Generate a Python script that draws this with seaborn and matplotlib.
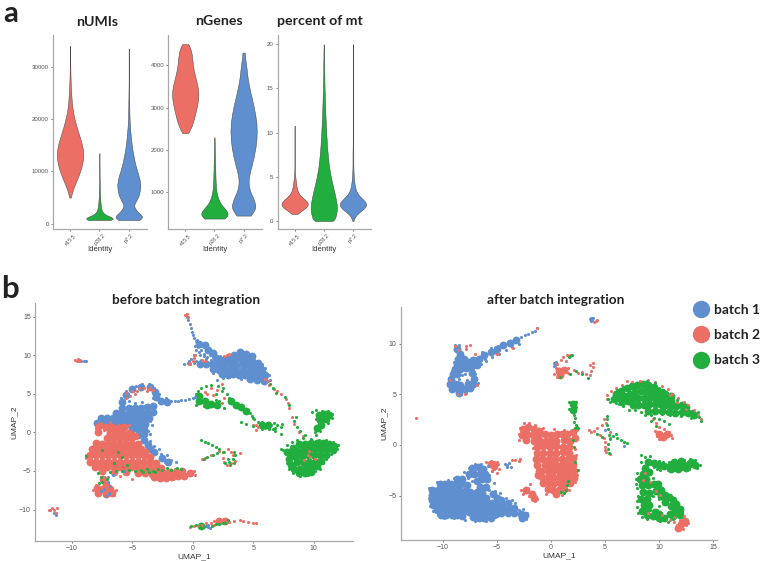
import seaborn as sns
import matplotlib
matplotlib.use("Agg")
import matplotlib.pyplot as plt
from matplotlib.lines import Line2D
import numpy as np
import pandas as pd

BLUE, RED, GREEN = "#5F8FCF", "#EC6F66", "#22AE3F"
identities = ["e15.5", "p28.2", "p7.2"]

# violins: value bins with rough cell counts read off the widths in the picture
numi_e15_vals = [5000, 6000, 7000, 8000, 9000, 10000, 11000, 12000, 13000, 14000, 15000, 16000, 17000, 18000, 19000, 20000, 21000, 22000, 23000, 24000, 25000, 26000, 27000, 28000, 29000, 30000, 31000, 32000, 33000, 34000]
numi_e15_cnt = [4, 12, 22, 36, 48, 60, 70, 76, 80, 78, 72, 64, 54, 44, 35, 27, 20, 15, 11, 9, 7, 5, 4, 3, 2, 2, 1, 1, 1, 1]
numi_p28_vals = [700, 1100, 1500, 1900, 2300, 2700, 3100, 3500, 3900, 4300, 4700, 5100, 5500, 5900, 6300, 6700, 7100, 7500, 7900, 8300, 8700, 9100, 9500, 9900, 10300, 10700, 11100, 11500, 11900, 12300, 12700, 13100, 13500]
numi_p28_cnt = [140, 156, 80, 44, 28, 20, 16, 14, 11, 10, 8, 7, 6, 6, 5, 5, 4, 4, 3, 3, 3, 2, 2, 2, 2, 2, 1, 1, 1, 1, 1, 1, 1]
numi_p7_vals = [700, 1500, 2500, 3500, 4500, 5500, 6500, 7500, 8500, 9500, 10500, 11500, 12500, 13500, 14500, 15500, 16500, 17500, 18500, 19500, 20500, 21500, 22500, 23500, 24500, 25500, 26500, 27500, 28500, 29500, 30500, 31500, 32500, 33500]
numi_p7_cnt = [64, 88, 50, 30, 52, 68, 75, 78, 72, 62, 52, 42, 35, 28, 22, 18, 14, 11, 8, 6, 5, 4, 3, 3, 2, 2, 1, 1, 1, 1, 1, 1, 1, 1]

genes_e15_vals = [2400, 2500, 2600, 2700, 2800, 2900, 3000, 3100, 3200, 3300, 3400, 3500, 3600, 3700, 3800, 3900, 4000, 4100, 4200, 4300, 4400, 4500]
genes_e15_cnt = [18, 32, 42, 50, 56, 62, 68, 73, 77, 80, 78, 74, 68, 62, 55, 50, 46, 43, 41, 38, 32, 20]
genes_p28_vals = [380, 480, 580, 680, 780, 880, 980, 1080, 1180, 1280, 1380, 1480, 1580, 1680, 1780, 1880, 1980, 2080, 2180, 2300]
genes_p28_cnt = [66, 80, 62, 36, 24, 16, 11, 8, 7, 6, 5, 5, 4, 4, 3, 3, 2, 2, 2, 1]
genes_p7_vals = [450, 650, 850, 1050, 1250, 1450, 1650, 1850, 2050, 2250, 2450, 2650, 2850, 3050, 3250, 3450, 3650, 3850, 4050, 4300]
genes_p7_cnt = [44, 78, 60, 36, 28, 36, 50, 62, 72, 78, 80, 78, 70, 60, 48, 36, 26, 20, 15, 9]

mt_vals = [0, 0.4, 0.8, 1.2, 1.6, 2, 2.4, 2.8, 3.2, 3.6, 4, 4.4, 4.8, 5.2, 5.6, 6, 6.4, 6.8, 7.2, 7.6, 8, 8.4, 8.8, 9.2, 9.6, 10, 10.4, 10.8, 11.2, 11.6, 12, 12.4, 12.8, 13.2, 13.6, 14, 14.4, 14.8, 15.2, 15.6, 16, 16.4, 16.8, 17.2, 17.6, 18, 18.4, 18.8, 19.2, 19.6, 20]
mt_e15_cnt = [0, 0, 8, 40, 72, 80, 60, 32, 18, 13, 9, 7, 5, 3, 2, 1, 1, 1, 1, 1, 1, 1, 1, 1, 1, 1, 1, 1, 0, 0, 0, 0, 0, 0, 0, 0, 0, 0, 0, 0, 0, 0, 0, 0, 0, 0, 0, 0, 0, 0, 0]
mt_p28_cnt = [66, 70, 76, 80, 80, 78, 74, 70, 65, 60, 55, 50, 45, 41, 37, 33, 30, 28, 26, 24, 22, 20, 19, 18, 16, 15, 14, 13, 12, 11, 10, 9, 9, 8, 7, 7, 6, 5, 5, 4, 4, 4, 3, 3, 3, 3, 2, 2, 2, 1, 1]
mt_p7_cnt = [1, 4, 14, 45, 75, 80, 55, 30, 18, 12, 9, 7, 5, 4, 3, 2, 2, 2, 2, 2, 2, 1, 1, 1, 1, 1, 1, 1, 1, 1, 1, 1, 1, 1, 1, 1, 1, 1, 1, 1, 1, 1, 1, 1, 1, 1, 1, 1, 1, 1, 1]

# umap points, big dots fill the blobs, small dots do the edges and speckle
before_blue_core = [(0.5,11.4),(1.0,11.3),(1.3,10.7),(1.7,10.3),(3.4,10.0),(3.9,10.4),(4.4,10.2),(4.9,9.9),
    (1.9,9.6),(2.4,9.4),(2.9,9.5),(3.4,9.4),(3.9,9.6),(4.4,9.5),(4.9,9.3),(5.4,9.0),
    (0.6,8.8),(1.1,8.9),(1.6,8.9),(2.1,8.8),(2.6,8.7),(3.1,8.8),(3.6,8.7),(4.1,8.8),(4.6,8.7),(5.1,8.6),(5.6,8.4),
    (1.7,8.2),(2.2,8.1),(2.7,8.1),(3.2,8.1),(3.7,8.0),(4.2,8.1),(4.7,8.0),(5.2,7.9),(5.7,7.8),(6.0,7.4),
    (3.3,7.5),(3.8,7.4),(4.3,7.4),(4.8,7.4),(5.3,7.3),(5.8,7.2),(4.7,6.9),(5.3,6.8),(5.9,6.7),
    (-3.0,4.6),(-2.6,4.0),(-2.1,3.9),(-5.8,3.9),(-5.8,3.2),(-5.3,3.2),(-4.8,3.1),(-4.3,3.2),(-3.8,3.3),(-3.3,3.4),
    (-5.5,4.8),(-5.0,5.6),(-4.3,5.9),(-3.5,5.9),(-3.1,5.2),
    (-6.3,2.5),(-5.8,2.5),(-5.3,2.5),(-4.8,2.5),(-4.3,2.5),(-3.8,2.5),(-3.3,2.6),
    (-7.6,1.8),(-7.1,1.8),(-6.6,1.8),(-6.1,1.8),(-5.6,1.8),(-5.1,1.8),(-4.6,1.8),(-4.1,1.8),(-3.6,1.8),
    (-7.9,1.2),(-7.4,1.2),(-6.9,1.2),(-6.4,1.2),(-5.9,1.1),(-5.4,1.1),(-4.9,1.1),(-4.4,1.1),(-3.9,1.1),
    (-5.0,0.4),(-4.5,0.4),(-4.0,0.4),(-4.5,-0.3),(-4.0,-0.2),(-4.0,-1.0),(-3.7,-1.7),(-3.2,-2.6),(-2.5,-3.3),
    (2.4,7.6),(2.9,7.4),(-3.5,-2.2),(-2.0,-3.9)]
before_red_core = [(-7.7,0.8),(-7.2,0.7),(-6.7,0.7),(-6.2,0.6),(-5.7,0.7),(-7.8,0.0),(-6.8,-0.1),(-6.3,0.0),(-5.8,-0.1),(-5.3,-0.1),
    (-7.1,-0.8),(-6.6,-0.8),(-6.1,-0.8),(-5.6,-0.8),(-5.1,-0.8),(-4.8,-0.5),
    (-8.0,-1.4),(-7.5,-1.5),(-7.0,-1.5),(-6.5,-1.5),(-6.0,-1.5),(-5.5,-1.5),(-5.0,-1.5),(-4.5,-1.5),
    (-8.3,-2.2),(-7.8,-2.2),(-7.3,-2.2),(-6.8,-2.2),(-6.3,-2.2),(-5.8,-2.2),(-5.3,-2.2),(-4.8,-2.2),(-4.3,-2.2),(-3.9,-2.5),
    (-8.5,-3.0),(-8.0,-3.0),(-7.5,-3.0),(-7.0,-3.0),(-6.5,-3.0),(-6.0,-3.0),(-5.5,-3.0),(-5.0,-3.0),(-4.5,-3.0),(-4.0,-3.0),(-3.5,-3.2),
    (-8.5,-3.8),(-8.0,-3.8),(-7.5,-3.8),(-7.0,-3.8),(-6.5,-3.8),(-6.0,-3.8),(-5.5,-3.8),(-5.0,-3.8),(-4.5,-3.8),(-4.0,-3.8),(-3.5,-3.9),(-3.0,-4.0),
    (-8.1,-4.5),(-7.6,-4.5),(-7.1,-4.5),(-6.6,-4.4),(-6.1,-4.5),(-5.6,-4.5),(-5.1,-4.5),(-4.6,-4.5),(-4.1,-4.6),(-3.6,-4.6),(-3.1,-4.6),(-2.6,-4.6),
    (-7.5,-5.0),(-6.5,-5.1),(-5.5,-5.2),(-4.5,-5.3),(-3.9,-5.3),(-3.4,-5.4),(-2.9,-5.4),(-2.4,-5.3),(-1.9,-5.2),(-1.4,-5.2),(-0.9,-5.0),
    (-3.2,-5.8),(-2.7,-5.9),(-2.2,-5.9),(-1.7,-5.8),(-1.2,-5.7),(-0.7,-5.6),(-0.2,-5.3),
    (-7.4,-6.1),(-7.2,-6.8),(-7.9,-7.2),(-7.4,-7.4),(-6.8,-7.3),(-7.8,-7.9),(-7.2,-8.0),(-6.7,-7.9),
    (2.2,-11.5),(2.7,-11.5)]
before_green_core = [(7.8,-2.5),(8.3,-2.0),(8.8,-1.5),(9.3,-1.5),(9.8,-1.4),(10.3,-1.4),(10.8,-1.4),(11.3,-1.5),(11.7,-1.8),
    (8.1,-2.8),(8.6,-2.4),(9.1,-2.3),(9.6,-2.2),(10.1,-2.2),(10.6,-2.2),(11.1,-2.2),(11.6,-2.3),
    (8.0,-3.5),(8.5,-3.2),(9.0,-3.1),(9.5,-3.0),(10.0,-3.0),(10.5,-3.0),(11.0,-3.0),
    (8.1,-4.2),(8.6,-3.9),(9.1,-3.9),(9.6,-3.8),(10.1,-3.8),(10.6,-3.7),
    (8.4,-4.8),(8.9,-4.7),(9.4,-4.6),(9.9,-4.5),(10.3,-4.4),(8.8,-5.3),(9.3,-5.3),(9.8,-5.1),
    (10.4,2.3),(10.9,2.4),(11.3,2.3),(10.5,1.6),(11.0,1.7),(10.6,1.0),(10.3,0.5),
    (0.5,4.7),(0.5,4.1),(1.0,4.0),(1.5,3.7),(2.0,3.5),(3.2,4.1),(3.6,3.6),(4.0,3.3),(4.4,2.8),(5.7,1.0),(6.2,0.9),
    (1.2,3.6),(0.7,-12.2)]
before_blue_fine = [(-0.5,15.0),(-0.35,14.5),(-0.25,14.0),(-0.15,13.5),(-0.05,13.0),(0.05,12.6),(0.15,12.2),(0.25,11.8),(0.35,12.0),
    (0.2,11.2),(0.3,10.6),(0.1,10.0),(-0.1,9.5),(-0.4,9.0),(-0.7,8.8),(-0.2,8.8),(0.3,9.2),(0.7,9.4),(1.1,9.5),(0.9,10.2),(0.6,10.0),
    (0.4,11.0),(0.5,10.4),(0.9,9.9),(1.4,10.0),(1.2,9.7),(-0.3,9.3),(0.1,9.0),(0.4,8.9),(0.7,10.7),(1.5,9.4),
    (2.9,9.9),(2.3,9.9),(1.7,9.8),(5.7,8.9),(6.0,8.3),(6.3,7.4),(6.4,6.8),(2.5,7.7),(3.0,7.5),(1.7,7.7),(4.0,6.9),(3.0,7.1),(2.5,7.0),(2.0,6.8),
    (-5.9,4.5),(-5.7,5.0),(-5.5,5.4),(-5.1,5.8),(-4.7,6.0),(-4.2,6.2),(-3.6,6.2),(-3.2,5.8),(-3.0,5.3),(-2.8,5.0),(-3.3,4.5),(-4.2,3.9),(-4.8,3.8),(-5.3,4.0),(-2.2,4.4),(-1.8,4.1),(-1.5,4.0),(-1.2,4.1),(-1.0,4.2),(-0.6,4.2),(-0.3,4.3),(0.0,4.4),(0.2,4.6),
    (-3.5,1.5),(-3.4,1.0),(-3.7,0.2),(-3.5,-0.2),(-3.5,-1.1),(-3.2,-1.8),(-2.8,-2.2),(-2.6,-2.8),(-2.1,-3.0),(-1.8,-3.6),(-1.4,-3.9),(-2.3,-3.8),
    (-7.0,-6.5),(-7.3,-7.3),(-6.9,-7.8),(-7.6,-7.6),(-6.9,-8.0),(-7.2,-8.2),(-6.8,-7.0),(-7.0,-5.8),(-6.6,-5.5),(-5.7,-5.0),
    (-9.2,9.3),(-9.0,9.3),(-8.8,9.3),(-11.8,-10.1),(-11.5,-10.4),(-11.3,-10.7),(1.3,-12.0),(1.3,-12.3),(1.1,-12.2),(1.4,-12.4)]
before_red_fine = [(-0.6,15.2),(-0.4,15.0),(-0.5,15.3),(0.0,9.3),(-0.2,9.0),(-0.3,8.9),(0.1,9.6),(0.2,10.0),(0.75,9.4),(1.0,9.3),(2.8,10.0),(3.0,10.2),(2.6,9.9),(6.0,6.9),(6.2,6.6),
    (-5.5,5.1),(-5.2,4.7),(-5.0,5.3),(-5.5,4.4),(-4.8,5.0),(-4.0,5.7),(-3.6,5.6),(-3.3,5.5),(-3.8,5.4),(-3.5,5.9),(-4.4,5.7),(-4.6,5.3),
    (-7.6,1.2),(-6.8,1.4),(-6.1,0.9),(-5.3,0.9),(-8.0,0.5),(-7.3,0.3),(-8.3,-1.9),(-8.8,-3.3),(-8.8,-2.9),(-5.0,-6.0),(-6.0,-5.6),
    (-8.2,-7.5),(-8.0,-6.8),(-6.3,-7.5),(-6.5,-8.1),(0.1,-5.0),(0.2,-5.5),
    (-9.7,9.4),(-9.5,9.5),(-9.4,9.3),(-9.6,9.2),(-9.3,9.4),(-11.9,-10.0),(-11.6,-9.8),(-11.2,-9.8),(-11.5,-10.1),(-11.3,-10.5),
    (-0.2,-12.3),(0.1,-12.1),(0.5,-12.2),(0.8,-12.0),(1.1,-11.8),(1.5,-11.7),(1.8,-11.5),(2.0,-11.3),(2.3,-11.3),(2.6,-11.2),(2.8,-11.5),(2.4,-11.6),(1.8,-12.0),(3.0,-11.6),(3.4,-11.5),(3.9,-11.3),(4.2,-11.5),(4.6,-11.6),(5.0,-11.7),(5.2,-11.7),
    (2.2,-2.4),(2.6,-2.5),(2.9,-2.2),(3.2,-2.6),(3.3,-3.0),(2.5,-3.3),(2.6,-3.8),(2.8,-4.2),(3.2,-4.0),(3.5,-3.7),(1.5,-3.0),(1.0,-3.3),(0.8,-3.5),(3.9,-2.7),
    (6.3,6.1),(6.7,5.6),(7.0,5.4),(7.3,5.0),(7.7,4.3),(7.9,3.8),(8.0,3.1),(8.2,2.0),(8.4,1.1),(8.8,0.0),(9.1,-0.5),(9.5,-2.9),(9.7,-3.2),(10.1,-3.4),(9.2,-3.6),(9.6,-2.4),
    (1.0,5.2),(1.5,5.8),(2.0,5.5),(2.4,6.2),(1.7,4.8),(1.2,4.9),(2.6,4.5),(2.4,3.8),(5.0,1.0),(5.2,0.9),(5.4,0.7),(5.2,0.3),
    (-4.5,-4.9),(-2.5,-5.1),(-1.5,-4.8)]
before_green_fine = [(-6.8,-5.1),(-6.3,-5.0),(-5.8,-5.0),(-5.3,-4.9),(-4.8,-5.0),(-4.3,-4.9),(-3.8,-4.8),(-3.3,-5.0),(-2.9,-4.7),(-2.5,-4.9),(-2.1,-4.6),(-1.8,-4.9),(-1.3,-4.6),(-1.0,-4.7),(-3.1,-5.2),(-3.6,-5.1),(-4.1,-5.1),
    (-7.8,-5.3),(-7.6,-5.8),(-7.5,-6.4),(-7.7,-6.6),(-7.1,-6.0),(-8.8,-3.1),(-7.5,-2.3),(-6.2,-2.5),(-5.8,-3.2),(-6.5,-4.0),(-5.4,-4.2),
    (0.3,5.0),(0.4,5.4),(0.7,5.7),(1.1,6.0),(1.5,6.1),(2.1,6.0),(2.5,5.7),(2.4,5.3),(2.8,4.9),(3.0,4.4),(3.3,4.0),(2.2,4.1),(2.6,3.2),(1.9,4.2),(1.2,3.4),(0.9,3.4),(0.3,3.6),(1.9,5.0),
    (4.7,2.5),(4.9,2.1),(5.1,1.7),(5.4,1.4),(5.0,1.8),(5.7,1.3),(6.5,0.9),(6.8,0.6),(7.0,0.9),(7.3,0.7),(7.4,1.1),(6.7,1.2),(7.3,-0.2),(6.8,0.2),(6.3,0.4),(5.7,0.4),(5.0,0.8),(4.4,1.1),(4.0,1.3),(6.0,0.5),(6.6,0.4),
    (10.1,0.0),(10.2,-0.3),(9.9,2.6),(10.2,2.9),(10.7,2.8),(11.2,2.8),(11.5,2.4),(11.5,1.9),(10.2,1.7),(11.2,1.2),(10.5,0.2),
    (7.5,-2.3),(7.3,-2.2),(7.8,-1.7),(8.2,-1.3),(8.6,-1.0),(9.1,-0.8),(9.8,-0.9),(10.4,-1.0),(11.0,-1.0),(11.6,-1.2),(12.0,-1.7),(11.9,-2.2),(11.4,-2.8),(11.0,-3.5),(10.8,-4.0),(10.5,-4.7),(10.1,-5.0),(9.5,-5.5),(8.9,-5.7),(8.3,-5.3),(8.0,-4.8),(7.8,-4.0),
    (8.5,2.0),(8.4,1.5),(8.6,0.7),(8.9,0.2),(9.3,-0.3),(8.0,3.6),(7.6,4.6),(6.6,5.8),(6.9,5.1),(6.4,6.2),
    (0.7,-1.0),(1.0,-1.2),(1.3,-1.4),(1.6,-1.7),(1.9,-1.9),(2.2,-2.2),(2.5,-2.6),(1.2,-3.2),(1.7,-2.9),(2.0,-2.7),(0.9,-3.4),
    (3.0,-3.8),(3.3,-3.4),(3.5,-3.0),(3.4,-2.6),(3.1,-4.2),(2.9,-3.5),(2.7,-4.0),(3.4,-4.0),
    (-0.1,-12.2),(0.3,-12.0),(0.6,-12.3),(0.9,-12.3),(1.6,-12.2),(1.9,-11.9),(2.2,-11.9),(2.5,-11.7),(2.7,-11.8),(2.9,-11.4)]

after_blue_core = [(-8.7,9.5),(-8.4,9.0),(-8.6,8.5),(-8.1,8.5),(-8.7,8.0),(-8.2,8.0),(-7.7,8.2),(-7.2,8.4),(-6.7,8.5),(-6.2,8.9),(-5.6,9.2),(-5.0,9.5),(-4.4,9.9),(-3.8,10.1),(-3.2,10.4),
    (-8.9,7.5),(-8.4,7.5),(-7.9,7.6),(-7.4,7.7),(-6.9,7.9),(-9.1,7.0),(-7.3,7.1),(-9.3,6.5),(-7.1,6.5),(-9.4,6.0),(-8.9,6.0),(-7.2,6.0),(-9.2,5.5),(-8.6,5.5),(-8.0,5.5),(-7.5,5.6),(-8.5,5.1),
    (-7.3,-2.3),(-6.8,-2.2),(-6.3,-2.4),(-7.6,-2.9),(-7.1,-2.9),(-6.6,-2.9),(-6.1,-2.9),(-8.7,-3.4),(-8.2,-3.4),(-6.4,-3.4),(-5.9,-3.4),(-6.9,-3.6),
    (-10.3,-3.9),(-9.8,-3.9),(-9.3,-3.9),(-8.8,-3.9),(-8.3,-3.9),(-7.8,-4.0),(-6.6,-4.1),(-6.0,-4.1),
    (-11.0,-4.4),(-10.5,-4.4),(-10.0,-4.4),(-9.5,-4.4),(-9.0,-4.4),(-8.5,-4.4),(-8.0,-4.5),(-7.5,-4.6),(-6.9,-4.6),(-6.4,-4.7),(-5.4,-4.8),
    (-11.0,-4.9),(-10.5,-4.9),(-10.0,-4.9),(-9.5,-4.9),(-9.0,-4.9),(-8.5,-4.9),(-8.0,-5.0),(-7.5,-5.1),(-7.0,-5.1),(-6.5,-5.2),(-6.0,-5.2),(-5.0,-5.2),(-4.6,-5.4),
    (-11.0,-5.4),(-10.5,-5.4),(-10.0,-5.4),(-9.5,-5.4),(-9.0,-5.4),(-8.5,-5.4),(-8.0,-5.5),(-7.5,-5.6),(-7.0,-5.6),(-6.5,-5.7),(-6.0,-5.7),(-5.5,-5.7),(-5.0,-5.8),(-4.5,-5.8),(-4.0,-5.7),
    (-10.9,-5.9),(-10.4,-5.9),(-9.9,-5.9),(-9.4,-5.9),(-8.9,-5.9),(-8.4,-6.0),(-7.9,-6.0),(-7.4,-6.1),(-6.9,-6.1),(-6.4,-6.2),(-5.9,-6.2),(-5.4,-6.2),(-4.9,-6.3),(-4.4,-6.3),(-3.9,-6.3),(-3.4,-6.2),
    (-10.6,-6.4),(-10.1,-6.4),(-9.6,-6.4),(-9.1,-6.4),(-8.6,-6.5),(-8.1,-6.5),(-7.6,-6.6),(-7.1,-6.7),(-6.6,-6.7),(-6.1,-6.7),(-5.6,-6.7),(-5.1,-6.8),(-4.6,-6.7),(-2.8,-6.8),(-2.4,-6.9),
    (-10.2,-6.9),(-9.7,-6.9),(-9.2,-6.9),(-8.7,-6.9),(-8.2,-7.0),(-7.2,-7.1),(-6.7,-7.2),(-6.2,-7.2),(-5.6,-7.2),(-2.7,-7.2),
    (-8.4,5.9),(-7.7,6.0),(-8.7,7.0),(-4.0,-6.7),(-3.4,-6.7)]
after_red_core = [(-2.6,1.6),(-2.1,1.8),(-1.6,1.6),(-1.1,1.4),(-2.7,1.0),(-2.2,1.1),(-1.7,1.0),(-1.2,0.9),(-0.6,1.1),(0.0,1.0),(1.5,1.1),(2.0,1.3),
    (-1.6,0.4),(-1.0,0.4),(-0.5,0.4),(0.5,0.4),(1.2,0.5),(1.8,0.4),(-1.3,-0.2),(-0.7,-0.1),(-0.1,-0.2),(0.5,-0.1),(1.1,-0.2),(1.7,-0.2),
    (-1.3,-0.8),(-0.7,-0.8),(-0.1,-0.8),(0.5,-0.8),(1.1,-0.7),(1.7,-0.8),(-1.4,-1.4),(-0.8,-1.4),(-0.2,-1.4),(0.4,-1.4),(1.0,-1.4),(1.6,-1.4),(2.0,-1.3),
    (-1.3,-2.0),(-0.6,-2.0),(0.0,-2.0),(0.5,-2.0),(1.0,-2.0),(1.5,-2.0),(2.0,-2.0),(-1.1,-2.6),(-0.3,-2.6),(0.2,-2.6),(0.7,-2.6),(1.2,-2.6),(1.7,-2.6),(2.1,-2.6),
    (-0.8,-3.2),(-0.3,-3.2),(0.2,-3.2),(0.7,-3.2),(1.2,-3.2),(1.7,-3.2),(2.1,-3.3),(-0.7,-3.8),(-0.2,-3.8),(0.3,-3.8),(0.8,-3.8),(1.3,-3.8),(1.8,-3.8),
    (-0.3,-4.3),(0.2,-4.4),(0.7,-4.4),(1.2,-4.3),(0.5,-4.8),(-2.3,-4.4),(-1.8,-4.8),(-1.6,-5.2),
    (0.7,7.3),(1.2,7.4),(0.8,6.9),(10.0,1.1),(10.7,1.1),(10.4,0.8),
    (12.0,-7.8),(12.4,-7.5),(11.8,-8.2),
    (0.6,1.1),(1.0,1.1),(0.0,0.4),(-2.3,0.5),(-0.9,-2.6),(-1.2,-3.0),(2.2,0.7),(-5.3,-2.1),(-5.6,-1.9)]
after_green_core = [(6.0,5.0),(6.5,5.3),(7.0,5.6),(7.5,5.8),(8.0,5.9),(8.5,6.0),(9.0,5.9),(9.5,5.7),
    (5.8,4.5),(6.3,4.6),(6.8,4.8),(7.3,5.0),(7.8,5.2),(8.3,5.3),(8.8,5.3),(9.3,5.2),(9.8,5.2),(10.3,5.2),
    (6.6,4.2),(7.1,4.3),(7.6,4.5),(8.1,4.6),(8.6,4.6),(9.1,4.6),(9.6,4.6),(10.1,4.6),(10.6,4.5),(11.1,4.3),
    (7.6,3.9),(8.1,3.9),(8.6,3.9),(9.1,4.0),(9.6,4.0),(10.1,4.0),(10.6,3.9),(11.1,3.8),(11.6,3.8),(12.1,3.9),
    (9.0,3.4),(9.6,3.4),(10.3,3.4),(10.9,3.3),(11.5,3.2),(12.1,3.3),(12.7,3.2),(13.2,3.0),
    (2.0,4.0),(2.0,3.5),
    (9.0,-1.7),(8.7,-2.3),(9.5,-1.8),(10.0,-2.0),(10.5,-2.1),(11.0,-2.1),(11.6,-2.0),(12.2,-2.0),(12.8,-1.9),(13.3,-2.0),
    (8.5,-2.9),(9.1,-2.7),(8.2,-3.4),(8.8,-3.4),(8.4,-4.0),(9.0,-4.0),(9.5,-3.9),(8.5,-4.6),(9.1,-4.7),(9.7,-4.5),
    (8.3,-5.3),(8.6,-5.9),(8.4,-6.5),(8.9,-6.9),(9.6,-6.6),(10.0,-6.8),(10.2,-5.0),(10.9,-5.1),(11.3,-5.4),(10.6,-5.6),(11.1,-6.0),(11.5,-6.4),(11.0,-6.8),(11.9,-6.9),(10.5,-7.2),
    (8.9,-5.3),(9.1,-5.9),(8.9,-6.3),(9.4,-7.0),(10.2,-4.4),(9.9,-3.9),(10.6,-4.9),(11.6,-5.8),(11.9,-6.3),(11.3,-7.0),(10.0,-7.2),
    (12.5,-2.3),(11.8,-2.4),(11.1,-2.4),(13.0,-1.7),(11.4,-1.7),(12.0,-1.6),(10.6,5.0),(11.1,4.8),(12.5,3.7)]
after_blue_fine = [(-8.9,9.9),(-8.5,9.9),(-2.8,10.7),(-2.4,10.9),(-2.1,11.0),(-1.8,11.2),(-1.5,11.3),(-1.3,11.5),(-4.9,9.8),(-5.6,9.6),(-6.4,9.2),(-5.1,9.1),(-6.1,8.5),(-6.9,8.1),
    (-6.5,8.0),(-6.0,8.3),(-5.5,8.7),(-4.8,9.0),(-4.2,9.4),(-3.6,9.7),(-3.0,10.0),
    (-9.5,5.9),(-9.4,6.6),(-9.2,7.3),(-9.0,8.2),(-8.2,6.9),(-8.5,6.5),(-7.8,6.4),(-8.0,7.0),(-7.9,5.1),(-8.6,6.2),(-7.0,7.0),(-6.8,6.1),
    (-11.3,-4.2),(-11.3,-5.2),(-11.2,-6.0),(-10.9,-6.5),(-10.5,-6.9),(-9.9,-7.2),(-9.0,-7.2),(-8.0,-7.4),(-7.0,-7.5),(-6.0,-7.5),(-5.2,-7.1),(-4.0,-6.8),(-3.4,-6.6),(-3.0,-6.4),(-2.6,-6.3),(-2.2,-6.7),(-2.3,-7.3),
    (-10.6,-3.7),(-9.5,-3.5),(-9.0,-3.3),(-8.1,-2.7),(-7.6,-2.3),(-7.0,-1.9),(-6.5,-1.9),(-5.8,-2.1),(-5.5,-2.6),(-5.7,-3.0),(-5.3,-3.8),(-5.2,-4.5),(-4.7,-4.7),(-4.2,-5.2),(-3.6,-5.4),(-3.3,-5.7),(-7.7,-3.3),(-7.3,-3.6),(-5.7,-4.4),
    (-4.3,-1.9),(-4.1,-2.0),(-3.9,-1.8),(-3.7,-2.2),(-4.1,-2.2),(3.6,12.4),(3.8,12.3),(3.7,12.2),(3.9,12.5),(3.7,12.5),
    (0.3,8.1),(0.4,7.9),(0.5,8.2),(0.3,7.8),(5.0,1.5),(6.8,-0.1)]
after_red_fine = [(-8.9,9.8),(-7.9,9.8),(-7.5,9.9),(-7.9,9.5),(-8.6,9.4),(-7.0,9.0),(-5.0,9.0),(-9.4,6.4),(-8.6,5.0),(-8.0,5.0),(-6.9,5.9),(-3.5,9.6),(-1.3,11.5),(-12.5,2.7),
    (-6.0,-1.7),(-5.6,-1.6),(-5.3,-1.7),(-5.0,-1.7),(-5.6,-2.1),(-5.3,-2.4),(-5.0,-2.8),(-5.5,-2.6),(-4.8,-2.4),(-4.9,-1.9),(-3.3,-1.5),(-3.6,-1.5),(-3.0,-1.6),(-2.9,-1.4),
    (-2.9,1.7),(-3.0,1.1),(-3.0,0.5),(-2.5,2.2),(-2.0,2.2),(-1.5,2.0),(-0.7,1.7),(0.3,1.6),(1.2,1.5),(2.4,1.5),(-1.7,-0.3),(2.2,-0.4),(2.3,-1.0),(2.4,-3.0),(2.2,-3.7),(1.7,-4.4),(1.0,-4.9),(-0.5,-4.8),(-1.0,-3.2),(-2.8,-4.4),(-2.6,-4.8),(-1.3,-5.3),(-1.5,-5.5),(-2.1,-4.2),(-1.9,-3.9),(-2.0,-5.0),
    (0.3,7.0),(0.5,7.6),(0.6,8.0),(0.9,8.4),(1.1,8.7),(1.5,8.9),(1.8,8.9),(1.4,8.3),(1.6,7.6),(2.1,7.4),(2.5,7.1),(2.9,7.2),(3.2,7.0),(3.6,6.9),(3.7,7.3),(3.9,7.7),(3.9,8.1),(3.6,7.9),(1.6,7.1),(0.6,6.7),
    (4.2,12.2),(4.0,12.1),(4.3,12.3),(3.5,1.5),(3.7,1.3),(4.0,1.4),(4.3,1.7),(4.7,2.0),(5.1,2.2),(4.5,1.0),(4.9,0.7),(5.0,0.3),(5.0,-0.2),(5.1,-0.7),(5.5,-0.9),(5.0,-0.5),(5.5,0.7),(5.5,1.3),(4.9,2.6),
    (5.2,4.9),(5.2,4.5),(5.6,5.3),(6.0,5.6),(6.6,5.9),(7.0,6.3),(7.5,6.2),(8.2,6.3),(9.0,6.4),(9.6,6.2),(10.3,5.8),(10.8,5.5),(11.2,5.0),(11.8,4.6),(12.3,4.2),(12.7,3.9),(13.2,3.5),(13.6,3.0),(13.9,2.6),(11.7,4.2),(12.5,3.6),(11.0,4.9),
    (9.4,2.6),(9.7,2.2),(10.0,1.8),(10.5,1.6),(10.9,1.3),(11.1,1.0),(11.2,0.7),(10.2,0.6),(9.8,0.9),(9.6,1.4),(10.0,0.6),
    (8.7,-2.8),(9.2,-3.7),(9.7,-4.5),(10.1,-4.9),(9.0,-6.7),(10.3,-6.9),(11.0,-7.4),(11.4,-7.6),(11.7,-7.9),(12.5,-7.9),(12.7,-7.7),(12.3,-7.0),(11.9,-7.4),(12.2,-8.3),(11.4,-7.1),(8.5,-3.5)]
after_green_fine = [(5.3,4.5),(5.5,4.2),(6.0,4.1),(6.3,4.0),(6.7,3.8),(7.2,3.5),(7.8,3.5),(8.3,3.3),(8.7,3.0),(9.3,3.0),(10.3,3.1),(11.0,3.0),(12.0,2.9),(13.0,2.7),(13.7,2.8),(13.9,2.4),(13.6,3.3),(13.1,3.4),(12.6,3.7),(11.7,4.4),(11.2,4.7),(10.7,5.1),(10.0,5.6),(9.6,6.1),(8.9,6.3),(8.1,6.1),(7.4,6.0),(6.7,5.7),(6.1,5.4),
    (9.5,2.7),(10.0,2.6),(10.5,2.4),(9.7,1.9),(10.9,2.1),(9.3,2.4),
    (1.7,4.2),(1.7,3.6),(2.3,4.2),(2.3,3.7),(2.1,3.0),(2.2,2.7),(2.1,2.3),(2.3,2.0),(2.4,1.8),(2.2,1.7),(2.5,1.7),(2.0,0.5),(2.1,-0.2),(2.2,-1.7),(2.5,-2.5),(1.6,-3.6),(1.4,-4.4),(0.9,-4.6),(1.2,-4.7),(1.5,-4.0),(1.8,7.0),(1.8,8.8),(1.7,8.7),(1.9,8.9),(2.9,7.0),(2.3,7.3),(3.4,6.6),(0.8,6.7),
    (5.2,2.6),(5.2,2.0),(5.3,1.6),(5.4,1.0),(5.5,0.6),(5.3,0.1),(5.3,-0.4),(5.4,-0.8),(4.3,1.1),(4.7,0.8),(5.7,0.9),(6.1,0.7),(6.5,0.5),(6.8,0.3),(7.0,0.2),(6.0,1.1),(5.2,2.9),
    (8.3,-1.0),(8.7,-1.2),(9.2,-1.1),(9.6,-1.6),(10.0,-1.6),(10.4,-1.7),(10.9,-1.7),(11.5,-1.6),(12.3,-1.5),(12.9,-1.4),(13.3,-1.5),(13.8,-2.0),(13.5,-2.3),(12.8,-2.4),(12.1,-2.4),(11.4,-2.5),(10.8,-2.5),(10.1,-2.5),(9.8,-2.4),(9.5,-2.2),(8.3,-1.7),(8.0,-2.8),(7.9,-3.4),(8.0,-4.2),(7.9,-3.9),
    (8.1,-5.0),(8.0,-5.5),(8.0,-6.1),(8.1,-6.7),(8.4,-7.1),(8.9,-7.3),(9.6,-7.2),(10.1,-7.5),(10.8,-7.6),(11.3,-7.3),(11.8,-6.3),(12.1,-6.6),(11.2,-5.5),(10.7,-5.0),(10.3,-4.4),(9.9,-4.0),(9.4,-3.3),(9.4,-5.0),(9.0,-5.4),(9.3,-6.0),(9.8,-6.4),(10.0,-6.0),(9.2,-6.4),(10.0,-5.3)]

TICK_COLOR = "#555555"
SPINE_COLOR = "#a8a8a8"

sns.set_style("ticks")
plt.rcParams["font.family"] = ["Liberation Sans", "DejaVu Sans"]

W, H = 760, 561
fig = plt.figure(figsize=(W / 100, H / 100), dpi=100)


def px_axes(left, top, right, bottom):
    return fig.add_axes([left / W, 1 - bottom / H, (right - left) / W, (bottom - top) / H])


def style(ax):
    sns.despine(ax=ax)
    for side in ["left", "bottom"]:
        ax.spines[side].set_color(SPINE_COLOR)
        ax.spines[side].set_linewidth(0.9)
    ax.tick_params(length=1.5, width=0.5, color=TICK_COLOR, labelcolor=TICK_COLOR, labelsize=4.4, pad=1.5)
    ax.xaxis.label.set_size(5.6)
    ax.yaxis.label.set_size(5.6)
    ax.xaxis.label.set_color("#333333")
    ax.yaxis.label.set_color("#333333")


def violins(ax, groups, adjust, ylim, yticks):
    # each group gets its own kde bandwidth, so one call per group
    for name, (vals, cnt), col, adj in zip(identities, groups, [RED, GREEN, BLUE], adjust):
        d = pd.DataFrame({"Identity": name, "value": np.repeat(vals, cnt)})
        sns.violinplot(data=d, x="Identity", y="value", order=identities, color=col,
                       saturation=1, inner=None, cut=0, density_norm="width", width=0.9, bw_adjust=adj,
                       linewidth=0.35, linecolor="#444444", ax=ax)
    ax.set_xlim(-0.58, 2.62)
    ax.set_ylim(*ylim)
    ax.set_yticks(yticks)
    ax.set_ylabel("")
    style(ax)
    ax.tick_params(axis="x", rotation=45, labelsize=4)
    ax.xaxis.labelpad = 0


def umap(ax, layers, xlim, ylim, xticks, yticks):
    for pts, col, size in layers:
        d = pd.DataFrame(pts, columns=["UMAP_1", "UMAP_2"])
        sns.scatterplot(data=d, x="UMAP_1", y="UMAP_2", color=col, s=size, linewidth=0, ax=ax)
    ax.set_xlim(*xlim)
    ax.set_ylim(*ylim)
    ax.set_xticks(xticks)
    ax.set_yticks(yticks)
    style(ax)
    ax.tick_params(labelsize=5)
    ax.xaxis.label.set_size(6)
    ax.yaxis.label.set_size(6)
    ax.xaxis.labelpad = 1
    ax.yaxis.labelpad = 1


violins(px_axes(53, 35, 147, 229),
        [(numi_e15_vals, numi_e15_cnt), (numi_p28_vals, numi_p28_cnt), (numi_p7_vals, numi_p7_cnt)],
        [0.55, 0.5, 0.4], (-1010, 36080), [0, 10000, 20000, 30000])
violins(px_axes(168.3, 35, 261.7, 229),
        [(genes_e15_vals, genes_e15_cnt), (genes_p28_vals, genes_p28_cnt), (genes_p7_vals, genes_p7_cnt)],
        [0.7, 0.8, 0.45], (133, 4716), [1000, 2000, 3000, 4000])
violins(px_axes(277.7, 35, 371, 229),
        [(mt_vals, mt_e15_cnt), (mt_vals, mt_p28_cnt), (mt_vals, mt_p7_cnt)],
        [0.75, 0.3, 0.42], (-0.9, 21.05), [0, 5, 10, 15, 20])

CORE, FINE = 32, 5
umap(px_axes(35, 303, 353, 540.7),
     [(before_blue_core, BLUE, CORE), (before_red_core, RED, CORE), (before_green_core, GREEN, CORE),
      (before_blue_fine, BLUE, FINE), (before_red_fine, RED, FINE), (before_green_fine, GREEN, FINE)],
     (-13.03, 13.25), (-14.04, 16.75), [-10, -5, 0, 5, 10], [-10, -5, 0, 5, 10, 15])
umap(px_axes(400.7, 306.7, 717.3, 540),
     [(after_blue_core, BLUE, CORE), (after_red_core, RED, CORE), (after_green_core, GREEN, CORE),
      (after_blue_fine, BLUE, FINE), (after_red_fine, RED, FINE), (after_green_fine, GREEN, FINE)],
     (-13.92, 15.4), (-9.38, 13.65), [-10, -5, 0, 5, 10, 15], [-5, 0, 5, 10])

TITLE_FONT = ["Lato", "DejaVu Sans"]


def fig_text(x, y, s, size, ha="center", va="center"):
    fig.text(x / W, 1 - y / H, s, fontsize=size, fontweight="bold", family=TITLE_FONT, ha=ha, va=va, color="#222222")


fig_text(97, 22, "nUMIs", 10.2)
fig_text(219, 21, "nGenes", 10.2)
fig_text(320, 21, "percent of mt", 10.2)
fig_text(186, 300, "before batch integration", 9.8)
fig_text(556, 300, "after batch integration", 9.8)
fig_text(3, 21.5, "a", 21, ha="left", va="baseline")
fig_text(1, 297.5, "b", 22.5, ha="left", va="baseline")

handles = [Line2D([], [], marker="o", linestyle="", markersize=11.5, color=c) for c in [BLUE, RED, GREEN]]
fig.legend(handles, ["batch 1", "batch 2", "batch 3"], loc="upper left", bbox_to_anchor=(688 / W, 1 - 304 / H),
           frameon=False, prop={"family": TITLE_FONT, "weight": "bold", "size": 10}, labelcolor="#222222",
           handletextpad=0.1, labelspacing=0.95, borderpad=0, borderaxespad=0, handlelength=1.8)

fig.savefig("out.png", dpi=100)
